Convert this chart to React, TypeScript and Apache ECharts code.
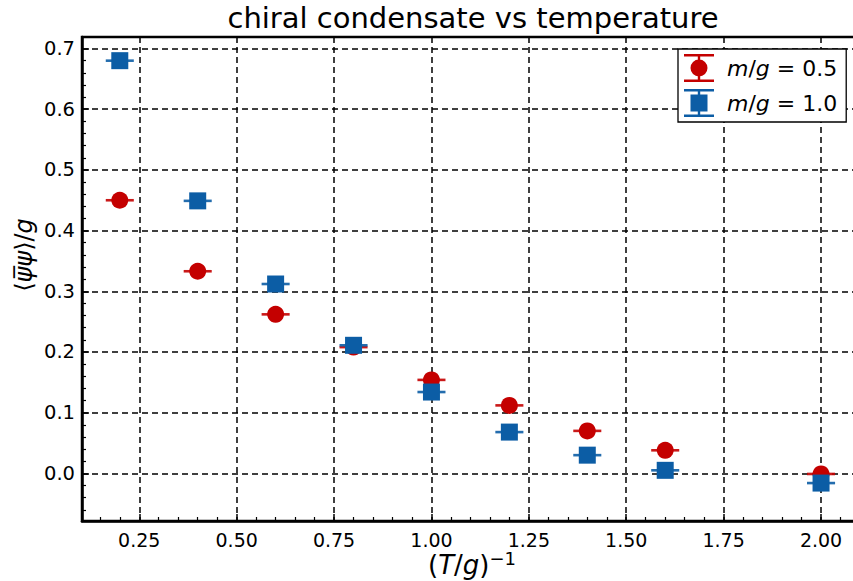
import React, { useEffect, useRef } from "react";
import * as echarts from "echarts";

const xValues = [0.2, 0.4, 0.6, 0.8, 1.0, 1.2, 1.4, 1.6, 2.0];
const redY = [0.45, 0.333, 0.262, 0.208, 0.154, 0.112, 0.07, 0.038, -0.001];
const blueY = [0.68, 0.449, 0.312, 0.211, 0.134, 0.068, 0.03, 0.005, -0.016];
const redXErr = [0.036, 0.036, 0.036, 0.036, 0.036, 0.036, 0.036, 0.036, 0.036];
const blueXErr = [0.036, 0.036, 0.036, 0.036, 0.036, 0.036, 0.036, 0.036, 0.036];

const xMajorTicks = [0.25, 0.5, 0.75, 1.0, 1.25, 1.5, 1.75, 2.0];
const xMinorTicks = [
  0.15, 0.2, 0.3, 0.35, 0.4, 0.45, 0.55, 0.6, 0.65, 0.7, 0.8, 0.85, 0.9, 0.95,
  1.05, 1.1, 1.15, 1.2, 1.3, 1.35, 1.4, 1.45, 1.55, 1.6, 1.65, 1.7, 1.8, 1.85,
  1.9, 1.95, 2.05,
];
const yMajorTicks = [0.0, 0.1, 0.2, 0.3, 0.4, 0.5, 0.6, 0.7];
const yMinorTicks = [
  -0.06, -0.04, -0.02, 0.02, 0.04, 0.06, 0.08, 0.12, 0.14, 0.16, 0.18, 0.22,
  0.24, 0.26, 0.28, 0.32, 0.34, 0.36, 0.38, 0.42, 0.44, 0.46, 0.48, 0.52, 0.54,
  0.56, 0.58, 0.62, 0.64, 0.66, 0.68,
];

const seriesNames = ["m/g = 0.5", "m/g = 1.0"];
const RED = "#c40000";
const BLUE = "#0c5da5";
const FONT = "DejaVu Sans";

const X_MIN = 0.103;
const X_MAX = 2.1;
const Y_MIN = -0.0785;
const Y_MAX = 0.719;

function errorSeries(xs: number[], ys: number[], errs: number[], color: string, z: number) {
  return {
    type: "custom",
    xAxisIndex: 0,
    yAxisIndex: 0,
    z,
    silent: true,
    data: xs.map((x, i) => [x, ys[i], errs[i]]),
    encode: { x: 0, y: 1 },
    renderItem: (params: any, api: any) => {
      const x = api.value(0);
      const y = api.value(1);
      const e = api.value(2);
      const p1 = api.coord([x - e, y]);
      const p2 = api.coord([x + e, y]);
      return {
        type: "line",
        shape: { x1: p1[0], y1: p1[1], x2: p2[0], y2: p2[1] },
        style: { stroke: color, lineWidth: 2.6, opacity: 0.9 },
      };
    },
  };
}

const circleIcon =
  "path://M0,0H30V2.4H0Z M0,25.6H30V28H0Z M13.8,0H16.2V28H13.8Z M15,5.5A8.5,8.5 0 1,1 15,22.5A8.5,8.5 0 1,1 15,5.5Z";
const squareIcon =
  "path://M0,0H30V2.4H0Z M0,25.6H30V28H0Z M13.8,0H16.2V28H13.8Z M6.5,5.5H23.5V22.5H6.5Z";

export default function App() {
  const ref = useRef<HTMLDivElement>(null);

  useEffect(() => {
    if (!ref.current) return;
    const chart = echarts.init(ref.current, undefined, { renderer: "svg" });
    const option: any = {
      animation: false,
      backgroundColor: "#ffffff",
      textStyle: { fontFamily: FONT },
      grid: {
        left: 82,
        top: 37,
        width: 778,
        height: 484,
        show: true,
        borderColor: "#000",
        borderWidth: 2.5,
        backgroundColor: "transparent",
        containLabel: false,
        outerBoundsMode: "none",
      },
      xAxis: [
        {
          type: "value",
          min: X_MIN,
          max: X_MAX,
          position: "bottom",
          axisLine: { show: true, onZero: false, lineStyle: { color: "#000", width: 2.5 } },
          axisTick: {
            show: true,
            inside: true,
            length: 7,
            lineStyle: { color: "#000", width: 1.5 },
            customValues: xMajorTicks,
          },
          axisLabel: {
            show: true,
            customValues: xMajorTicks,
            formatter: (v: number) => v.toFixed(2),
            fontSize: 19,
            fontFamily: FONT,
            color: "#000",
            margin: 9,
          },
          splitLine: {
            show: true,
            lineStyle: { color: "#000", width: 1.5, type: [6, 4] },
          },
        },
        {
          type: "value",
          min: X_MIN,
          max: X_MAX,
          position: "bottom",
          axisLine: { show: false, onZero: false },
          axisTick: {
            show: true,
            inside: true,
            length: 4,
            lineStyle: { color: "#000", width: 1.2 },
            customValues: xMinorTicks,
          },
          axisLabel: { show: false },
          splitLine: { show: false },
        },
      ],
      yAxis: [
        {
          type: "value",
          min: Y_MIN,
          max: Y_MAX,
          position: "left",
          axisLine: { show: true, onZero: false, lineStyle: { color: "#000", width: 2.5 } },
          axisTick: {
            show: true,
            inside: true,
            length: 7,
            lineStyle: { color: "#000", width: 1.5 },
            customValues: yMajorTicks,
          },
          axisLabel: {
            show: true,
            customValues: yMajorTicks,
            formatter: (v: number) => v.toFixed(1),
            fontSize: 19.5,
            fontFamily: FONT,
            color: "#000",
            margin: 7,
          },
          splitLine: {
            show: true,
            lineStyle: { color: "#000", width: 1.5, type: [6, 4] },
          },
        },
        {
          type: "value",
          min: Y_MIN,
          max: Y_MAX,
          position: "left",
          axisLine: { show: false, onZero: false },
          axisTick: {
            show: true,
            inside: true,
            length: 4,
            lineStyle: { color: "#000", width: 1.2 },
            customValues: yMinorTicks,
          },
          axisLabel: { show: false },
          splitLine: { show: false },
        },
      ],
      legend: {
        show: true,
        orient: "vertical",
        left: 678,
        top: 49,
        padding: [5, 9, 5, 6],
        itemGap: 7,
        itemWidth: 30,
        itemHeight: 28,
        borderColor: "#000",
        borderWidth: 1.3,
        borderRadius: 0,
        backgroundColor: "#fff",
        data: [
          { name: seriesNames[0], icon: circleIcon, itemStyle: { color: RED } },
          { name: seriesNames[1], icon: squareIcon, itemStyle: { color: BLUE } },
        ],
        formatter: (name: string) => {
          const parts = name.split(" = ");
          return "{i|m}{n|/}{i|g}{n| = " + parts[1] + "}";
        },
        textStyle: {
          fontFamily: FONT,
          fontSize: 22,
          color: "#000",
          padding: [0, 0, 0, 8],
          rich: {
            i: { fontFamily: FONT, fontSize: 22, fontStyle: "italic", color: "#000" },
            n: { fontFamily: FONT, fontSize: 22, color: "#000" },
          },
        },
      },
      graphic: [
        {
          type: "text",
          x: 473,
          y: 18,
          style: {
            text: "chiral condensate vs temperature",
            fontFamily: FONT,
            fontSize: 29,
            fill: "#000",
            align: "center",
            verticalAlign: "middle",
          },
        },
        {
          type: "text",
          x: 472,
          y: 565,
          style: {
            text: "{n|(}{i|T}{n|/}{i|g}{n|)}{s|−1}",
            fontFamily: FONT,
            fontSize: 26,
            fill: "#000",
            align: "center",
            verticalAlign: "middle",
            rich: {
              n: { fontFamily: FONT, fontSize: 26, fill: "#000", lineHeight: 32 },
              i: { fontFamily: FONT, fontSize: 26, fontStyle: "italic", fill: "#000", lineHeight: 32 },
              s: { fontFamily: FONT, fontSize: 18, fill: "#000", verticalAlign: "top", lineHeight: 32 },
            },
          },
        },
        {
          type: "text",
          x: 24,
          y: 255,
          rotation: Math.PI / 2,
          style: {
            text: "{n|⟨}{i|ψ\u0305ψ}{n|⟩/}{i|g}",
            fontFamily: FONT,
            fontSize: 24,
            fill: "#000",
            align: "center",
            verticalAlign: "middle",
            rich: {
              n: { fontFamily: FONT, fontSize: 24, fill: "#000" },
              i: { fontFamily: FONT, fontSize: 24, fontStyle: "italic", fill: "#000" },
            },
          },
        },
      ],
      series: [
        errorSeries(xValues, redY, redXErr, RED, 1),
        {
          name: seriesNames[0],
          type: "scatter",
          xAxisIndex: 0,
          yAxisIndex: 0,
          z: 2,
          symbol: "circle",
          symbolSize: 17,
          itemStyle: { color: RED, opacity: 1 },
          data: xValues.map((x, i) => [x, redY[i]]),
        },
        errorSeries(xValues, blueY, blueXErr, BLUE, 3),
        {
          name: seriesNames[1],
          type: "scatter",
          xAxisIndex: 0,
          yAxisIndex: 0,
          z: 4,
          symbol: "rect",
          symbolSize: 17,
          itemStyle: { color: BLUE, opacity: 1 },
          data: xValues.map((x, i) => [x, blueY[i]]),
        },
      ],
    };
    chart.setOption(option);
    return () => chart.dispose();
  }, []);

  return (
    <div
      ref={ref}
      style={{ position: "absolute", left: 0, top: 0, width: 853, height: 581, background: "#fff" }}
    />
  );
}
